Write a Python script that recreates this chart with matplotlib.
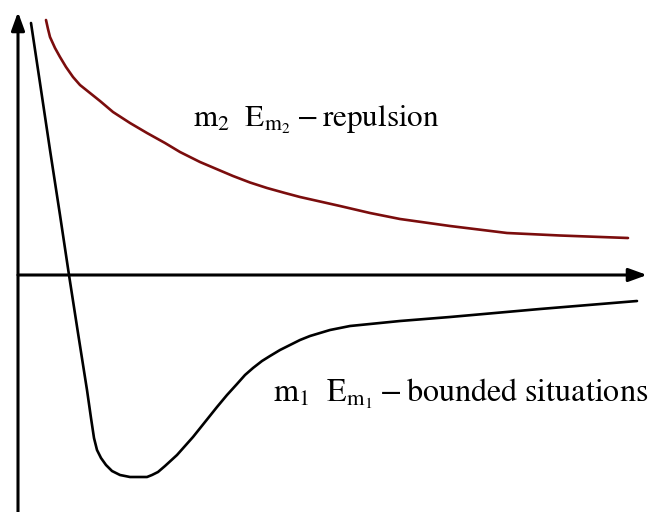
import matplotlib
matplotlib.use("Agg")
import matplotlib.pyplot as plt

plt.rcParams['mathtext.fontset'] = 'stix'
plt.rcParams['font.family'] = ['Liberation Serif', 'DejaVu Serif']

# Bounded potential (m1) curve, read in picture pixel coordinates
bound_x = [31, 40, 50, 60, 69, 78, 87, 91, 94, 97, 101, 106, 112, 120, 130, 140, 147, 152, 158, 165,
           177, 193, 205, 217, 227, 237, 245, 253, 262, 270, 280, 290, 300, 310, 320, 330, 350, 400, 450, 540, 637]
bound_y = [23, 83, 150, 215, 275, 333, 390, 418, 438, 450, 458, 465, 471, 475, 477, 477, 477, 475, 472, 466,
           455, 437, 422, 407, 395, 384, 375, 368, 361, 356, 350, 345, 340, 336, 333, 330, 326, 321, 317, 309, 301]

# Repulsion (m2) curve
rep_x = [46, 48, 50, 55, 60, 66, 73, 80, 90, 100, 113, 130, 147, 165, 180, 200, 220, 233, 250, 267,
         285, 300, 320, 340, 370, 400, 450, 507, 560, 628]
rep_y = [20, 29, 37, 48, 57, 67, 77, 85, 93, 101, 112, 123, 133, 143, 152, 162, 170.5, 176, 182.5, 188,
         193, 197, 201.5, 206, 213, 219, 226, 233, 235.5, 238]

label_rep = r'$\mathrm{m}_{2}\ \ \mathrm{E}_{\mathrm{m}_{2}}-\mathrm{repulsion}$'
label_bound = r'$\mathrm{m}_{1}\ \ \mathrm{E}_{\mathrm{m}_{1}}-\mathrm{bounded\ situations}$'

fig = plt.figure(figsize=(6.55, 5.12), dpi=100)
ax = fig.add_axes([0, 0, 1, 1])
ax.set_xlim(0, 655)
ax.set_ylim(512, 0)
ax.axis('off')

arrow_kw = dict(arrowstyle='-|>,head_length=1.1,head_width=0.4', color='black', lw=2.2,
                shrinkA=0, shrinkB=0, mutation_scale=10)
ax.annotate('', xy=(18, 12), xytext=(18, 512), arrowprops=arrow_kw)
ax.annotate('', xy=(647, 275), xytext=(18, 275), arrowprops=arrow_kw)

ax.plot(bound_x, bound_y, color='black', lw=1.9, solid_capstyle='round', solid_joinstyle='round')
ax.plot(rep_x, rep_y, color='#7b0d0d', lw=1.9, solid_capstyle='round', solid_joinstyle='round')

ax.text(193, 127, label_rep, fontsize=22.4, ha='left', va='baseline', color='black')
ax.text(273, 402, label_bound, fontsize=23.1, ha='left', va='baseline', color='black')

fig.savefig('out.png', dpi=100)
